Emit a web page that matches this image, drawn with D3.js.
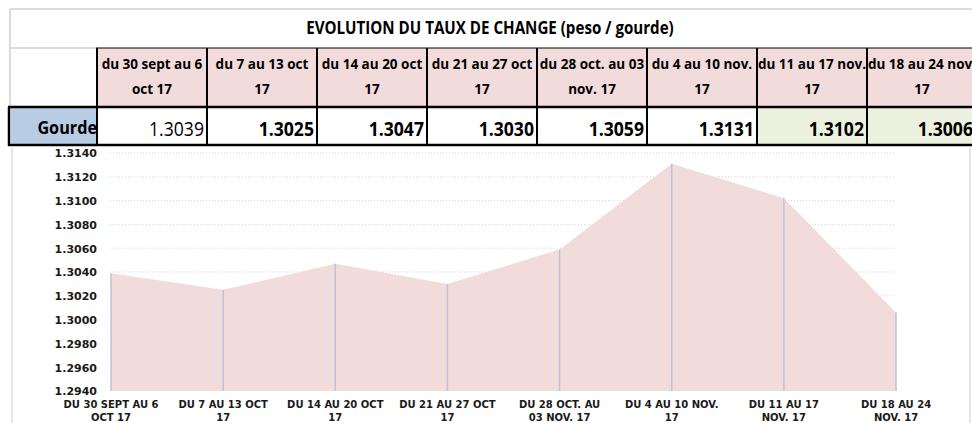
<!DOCTYPE html>
<html lang="fr">
<head>
    <meta charset="UTF-8">
    <title>Evolution du taux de change</title>
    <script src="https://cdnjs.cloudflare.com/ajax/libs/d3/7.8.5/d3.min.js"></script>
    <style>
        body { margin: 0; background: #fff; }
        svg { display: block; }
        .cell-text { font-family: "Open Sans", "Liberation Sans", sans-serif; fill: #000; }
        .axis-text { font-family: "DejaVu Sans", Verdana, sans-serif; font-weight: bold; fill: #1a1a1a; }
    </style>
</head>
<body>
<svg id="chart" width="972" height="423"></svg>
<script>
    // Data
    const title = "EVOLUTION DU TAUX DE CHANGE (peso / gourde)";
    const rowLabel = "Gourde";
    const headerLines = [
        ["du 30 sept au 6", "oct 17"],
        ["du 7 au 13 oct", "17"],
        ["du 14 au 20 oct", "17"],
        ["du 21 au 27 oct", "17"],
        ["du 28 oct. au 03", "nov. 17"],
        ["du 4 au 10 nov.", "17"],
        ["du 11 au 17 nov.", "17"],
        ["du 18 au 24 nov.", "17"]
    ];
    const axisLines = [
        ["DU 30 SEPT AU 6", "OCT 17"],
        ["DU 7 AU 13 OCT", "17"],
        ["DU 14 AU 20 OCT", "17"],
        ["DU 21 AU 27 OCT", "17"],
        ["DU 28 OCT. AU", "03 NOV. 17"],
        ["DU 4 AU 10 NOV.", "17"],
        ["DU 11 AU 17", "NOV. 17"],
        ["DU 18 AU 24", "NOV. 17"]
    ];
    const rates = [1.3039, 1.3025, 1.3047, 1.3030, 1.3059, 1.3131, 1.3102, 1.3006];
    const yTicks = [1.2940, 1.2960, 1.2980, 1.3000, 1.3020, 1.3040, 1.3060, 1.3080, 1.3100, 1.3120, 1.3140];

    const categories = headerLines.map((d, i) => i);
    const svg = d3.select("#chart");

    // squeeze Open Sans to look like the narrow spreadsheet font
    function narrow(sel, k) {
        sel.each(function () {
            const w = this.getComputedTextLength();
            d3.select(this).attr("textLength", w * k).attr("lengthAdjust", "spacingAndGlyphs");
        });
    }

    // ---------- table ----------
    const col = d3.scaleBand().domain(categories).range([97, 977]);

    // frame of the title row
    svg.append("line").attr("x1", 10).attr("x2", 972).attr("y1", 9).attr("y2", 9)
        .attr("stroke", "#d0d0d0").attr("stroke-width", 1.5);
    svg.append("line").attr("x1", 10).attr("x2", 10).attr("y1", 9).attr("y2", 108)
        .attr("stroke", "#d0d0d0").attr("stroke-width", 1.5);
    svg.append("line").attr("x1", 10).attr("x2", 97).attr("y1", 48).attr("y2", 48)
        .attr("stroke", "#d0d0d0").attr("stroke-width", 1.5);

    svg.append("text").attr("class", "cell-text")
        .attr("x", 490).attr("y", 34)
        .attr("text-anchor", "middle")
        .style("font-size", "17px").style("font-weight", "bold")
        .text(title)
        .call(narrow, 0.89);

    // header cells
    svg.selectAll(".hcell").data(categories).enter().append("rect")
        .attr("class", "hcell")
        .attr("x", d => col(d)).attr("y", 48)
        .attr("width", col.bandwidth()).attr("height", 59)
        .attr("fill", "#f2dcdb");

    const hText = svg.selectAll(".htext").data(categories).enter().append("g")
        .attr("class", "htext");
    [0, 1].forEach(line => {
        hText.append("text").attr("class", "cell-text")
            .attr("text-anchor", "middle")
            .attr("x", d => col(d) + col.bandwidth() / 2)
            .attr("y", line === 0 ? 69 : 94)
            .style("font-size", "15px").style("font-weight", "bold")
            .text(d => headerLines[d][line])
            .call(narrow, 0.9);
    });

    // value row
    svg.append("rect").attr("x", 11).attr("y", 108).attr("width", 86).attr("height", 37)
        .attr("fill", "#b8cce4");
    svg.selectAll(".vcell").data(categories).enter().append("rect")
        .attr("class", "vcell")
        .attr("x", d => col(d)).attr("y", 108)
        .attr("width", col.bandwidth()).attr("height", 37)
        .attr("fill", d => d >= 6 ? "#ebf1de" : "#fff");

    svg.append("clipPath").attr("id", "labclip")
        .append("rect").attr("x", 11).attr("y", 108).attr("width", 86).attr("height", 37);
    svg.append("text").attr("class", "cell-text")
        .attr("clip-path", "url(#labclip)")
        .attr("x", 97).attr("y", 134)
        .attr("text-anchor", "end")
        .style("font-size", "18px").style("font-weight", "bold")
        .text(rowLabel)
        .call(narrow, 0.9);

    svg.selectAll(".vtext").data(categories).enter().append("text")
        .attr("class", "cell-text vtext")
        .attr("x", d => Math.min(col(d) + col.bandwidth() - 3, 973))
        .attr("y", 136)
        .attr("text-anchor", "end")
        .style("font-size", "20px")
        .style("font-weight", d => d === 0 ? "normal" : "bold")
        .text(d => rates[d].toFixed(4))
        .call(narrow, 0.88);

    // black borders
    const black = "#000";
    [48, 107, 145].forEach((yy, i) => {
        svg.append("line")
            .attr("x1", i === 0 ? 96 : 8).attr("x2", 972)
            .attr("y1", yy).attr("y2", yy)
            .attr("stroke", black).attr("stroke-width", i === 0 ? 1 : 2.5);
    });
    svg.append("line").attr("x1", 9).attr("x2", 9).attr("y1", 107).attr("y2", 146)
        .attr("stroke", black).attr("stroke-width", 2.5);
    svg.selectAll(".vline").data(categories).enter().append("line")
        .attr("class", "vline")
        .attr("x1", d => col(d)).attr("x2", d => col(d))
        .attr("y1", 48).attr("y2", 146)
        .attr("stroke", black).attr("stroke-width", 2);

    // ---------- chart ----------
    const x = d3.scalePoint().domain(categories).range([111, 896]);
    const y = d3.scaleLinear().domain([1.2940, 1.3140]).range([391, 153]);

    // chart frame
    svg.append("line").attr("x1", 12).attr("x2", 12).attr("y1", 146).attr("y2", 423)
        .attr("stroke", "#dcdcdc").attr("stroke-width", 1.5);
    svg.append("line").attr("x1", 970).attr("x2", 970).attr("y1", 146).attr("y2", 423)
        .attr("stroke", "#dcdcdc").attr("stroke-width", 1.5);

    // gridlines
    svg.append("g").selectAll("line").data(yTicks.slice(1)).enter().append("line")
        .attr("x1", 110).attr("x2", 896)
        .attr("y1", d => y(d)).attr("y2", d => y(d))
        .attr("stroke", "#d4d4d4").attr("stroke-width", 1)
        .attr("stroke-dasharray", "1,2");

    // area
    const area = d3.area()
        .x(d => x(d))
        .y0(y(1.2940))
        .y1(d => y(rates[d]));
    svg.append("path").datum(categories)
        .attr("d", area)
        .attr("fill", "#f2dcdb");

    // drop lines
    svg.selectAll(".drop").data(categories).enter().append("line")
        .attr("class", "drop")
        .attr("x1", d => x(d)).attr("x2", d => x(d))
        .attr("y1", d => y(rates[d])).attr("y2", y(1.2940))
        .attr("stroke", "#b9c3da").attr("stroke-width", 1.5);

    // y axis
    const yAxis = d3.axisLeft(y).tickValues(yTicks).tickFormat(d3.format(".4f")).tickSize(0).tickPadding(0);
    const gy = svg.append("g").attr("transform", "translate(97,0)").call(yAxis);
    gy.select(".domain").remove();
    gy.selectAll("text").attr("class", "axis-text").style("font-size", "11px").attr("dy", "0.35em");

    // x axis labels
    const xt = svg.selectAll(".xlab").data(categories).enter().append("text")
        .attr("class", "axis-text xlab")
        .style("font-size", "10px")
        .attr("text-anchor", "middle");
    xt.append("tspan").attr("x", d => x(d)).attr("y", 408).text(d => axisLines[d][0]);
    xt.append("tspan").attr("x", d => x(d)).attr("y", 421).text(d => axisLines[d][1]);
</script>
</body>
</html>
